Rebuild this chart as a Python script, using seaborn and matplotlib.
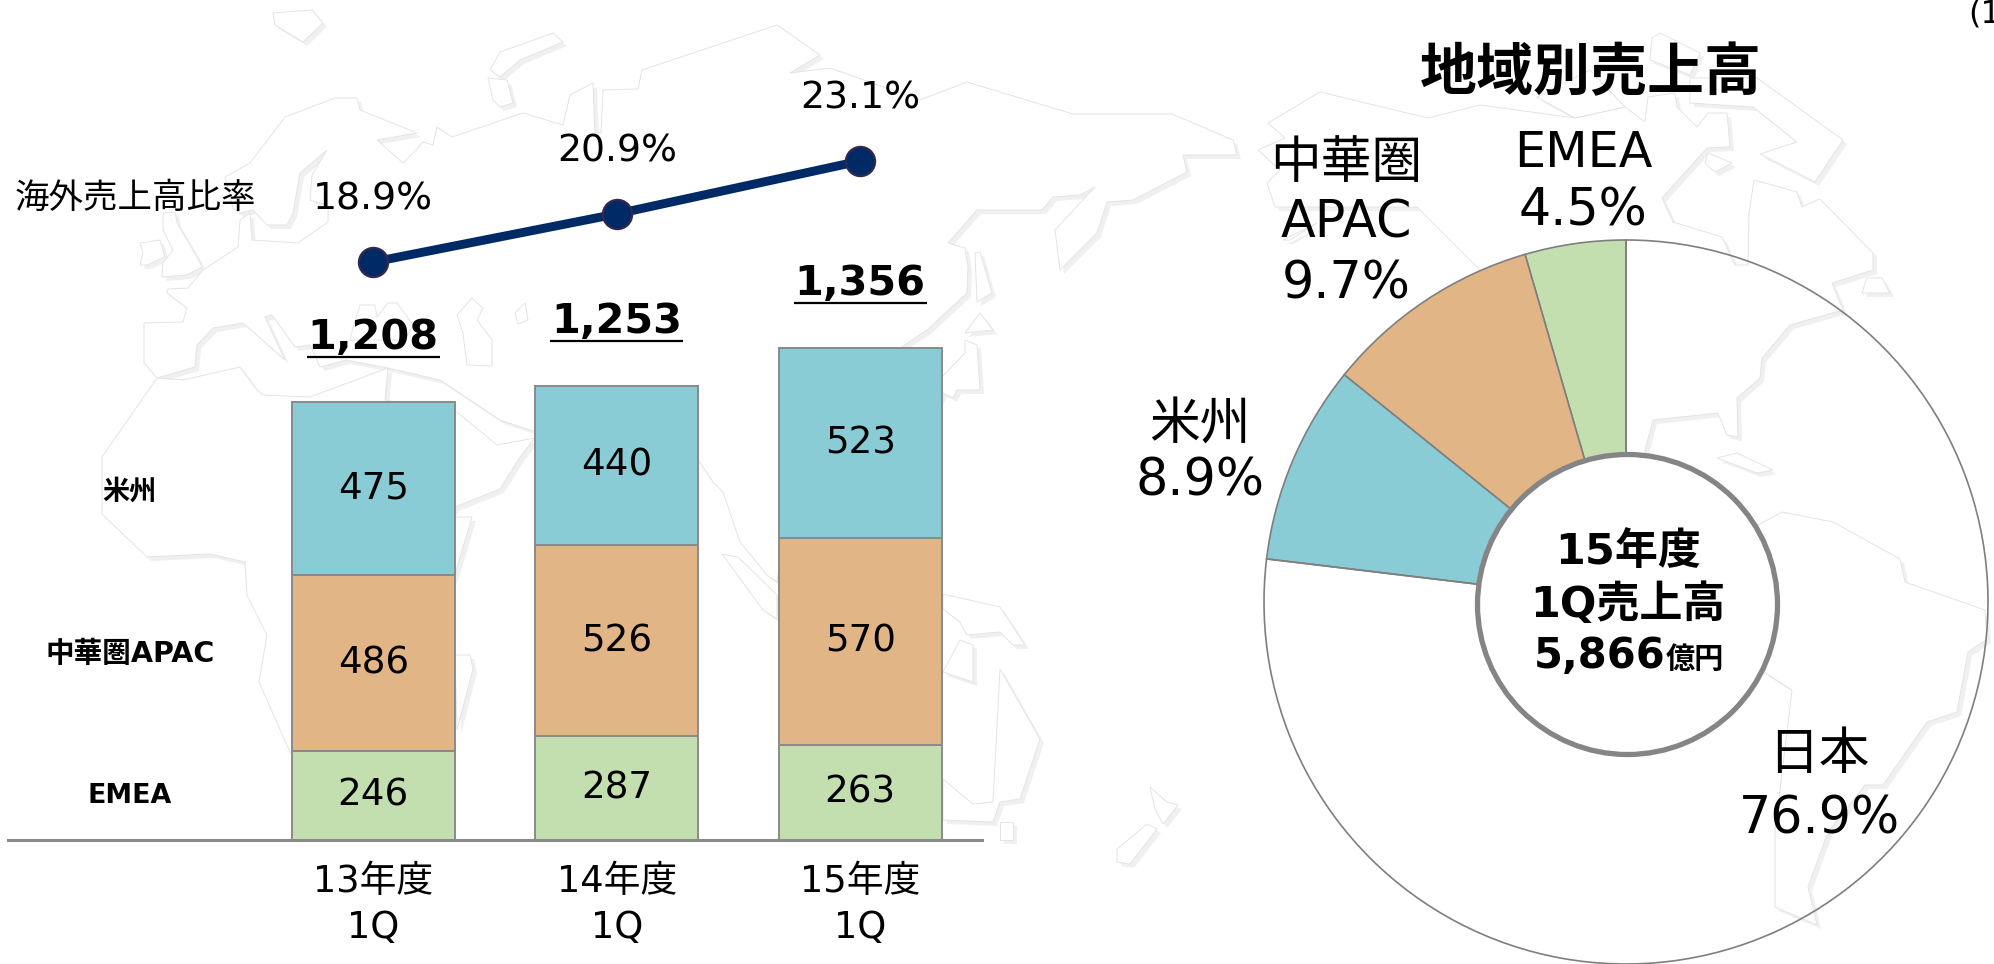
import numpy as np
import pandas as pd
import matplotlib
matplotlib.use("Agg")
import matplotlib.pyplot as plt
from matplotlib.patches import Polygon, Circle
import seaborn as sns

# ---- data ----
periods = ["13年度\n1Q", "14年度\n1Q", "15年度\n1Q"]
emea = [246, 287, 263]
apac = [486, 526, 570]
americas = [475, 440, 523]
totals = [1208, 1253, 1356]
overseas_ratio = [18.9, 20.9, 23.1]
pie_labels = ["EMEA\n4.5%", "中華圏\nAPAC\n9.7%", "米州\n8.9%", "日本\n76.9%"]
pie_shares = [4.5, 9.7, 8.9, 76.9]

# ---- style ----
TEAL, TAN, GREEN = "#89CCD6", "#E2B587", "#C3DFB0"
EDGE, NAVY = "#8A8A8A", "#002A66"
W, H = 1994, 964
sns.set_theme(style="white")
plt.rcParams["font.family"] = ["DejaVu Sans", "Noto Sans CJK JP"]
plt.rcParams["text.color"] = "black"
plt.rcParams["xtick.color"] = "black"
plt.rcParams["xtick.labelcolor"] = "black"

fig = plt.figure(figsize=(W / 100, H / 100), dpi=100, facecolor="white")
px = 72 / 100  # points per pixel


def axes_px(left, top, right, bottom, **kw):
    return fig.add_axes([left / W, 1 - bottom / H, (right - left) / W, (bottom - top) / H], **kw)


def label(x, y, s, size, **kw):
    kw.setdefault("ha", "center")
    kw.setdefault("va", "center")
    return fig.text(x / W, 1 - y / H, s, fontsize=size, **kw)


# ---- decorative world map backdrop (outlines with a soft drop shadow) ----
MAP_SHAPES = [
    # Eurasia
    [(157,378),(144,363),(144,323),(183,322),(187,308),(167,293),(168,289),(188,288),(203,270),(238,247),
     (240,220),(250,213),(252,240),(298,243),(328,222),(328,205),(310,200),(312,175),(327,150),(300,173),
     (293,213),(287,225),(267,225),(253,210),(240,213),(233,208),(225,177),(250,163),(285,117),(335,98),
     (357,98),(360,110),(417,133),(377,140),(403,163),(413,153),(423,142),(433,145),(437,127),(452,137),
     (523,113),(563,125),(570,95),(593,83),(595,133),(601,133),(603,90),(638,89),(642,70),(777,25),(820,55),
     (790,73),(830,68),(920,100),(967,82),(1000,92),(1073,114),(1172,114),(1233,140),(1237,155),(1183,155),
     (1187,172),(1133,200),(1107,202),(1097,233),(1060,270),(1055,230),(1095,187),(1080,195),(1053,197),
     (1042,210),(977,210),(948,243),(965,248),(968,267),(967,293),(927,330),(900,348),(930,365),(942,377),
     (965,353),(965,340),(977,345),(980,390),(957,390),(953,398),(943,393),(930,420),(900,480),(780,560),
     (777,582),(767,575),(740,542),(723,492),(713,482),(700,463),(690,440),(640,420),(560,440),(500,420),
     (440,380),(388,368),(346,360),(320,367),(310,345),(295,347),(272,315),(265,317),(285,360),(243,323),
     (213,328),(197,345),(195,367)],
    # Africa
    [(157,378),(183,380),(240,367),(257,390),(263,395),(310,397),(388,368),(385,400),(458,413),(497,445),
     (535,438),(520,457),(500,489),(455,507),(440,530),(455,517),(472,517),(455,574),(420,650),(360,760),
     (310,775),(290,752),(259,682),(267,635),(247,595),(245,562),(210,554),(147,557),(102,514),(102,457)],
    # North America
    [(1268,123),(1320,92),(1428,118),(1480,105),(1575,118),(1625,107),(1645,122),(1648,97),(1675,93),
     (1677,107),(1697,127),(1708,113),(1727,113),(1730,147),(1707,148),(1662,198),(1673,222),(1722,237),
     (1735,265),(1748,265),(1749,213),(1754,180),(1797,192),(1802,207),(1820,199),(1873,253),(1873,270),
     (1832,283),(1843,310),(1790,325),(1762,358),(1760,378),(1737,398),(1738,437),(1727,435),(1718,413),
     (1653,420),(1645,450),(1640,520),(1600,500),(1540,400),(1480,270),(1417,207),(1275,207),(1267,183),
     (1280,170),(1258,150),(1285,138)],
    # South America
    [(1700,540),(1760,524),(1782,512),(1833,522),(1900,559),(1905,582),(1985,610),(1987,639),(1968,652),
     (1957,712),(1927,722),(1883,785),(1865,785),(1828,832),(1808,887),(1817,925),(1775,907),(1775,832),
     (1792,690),(1767,674),(1700,620)],
    # Greenland
    [(1690,78),(1690,103),(1753,107),(1797,142),(1760,154),(1815,182),(1843,140),(1757,78)],
    # Arctic Canada
    [(1652,38),(1660,33),(1700,53),(1690,75),(1650,60)],
    [(1537,97),(1590,70),(1625,107),(1575,118)],
    # Iceland, Svalbard, Novaya Zemlya, Britain, Ireland
    [(273,13),(312,10),(323,23),(303,42),(275,25)],
    [(500,52),(553,33),(563,42),(520,60),(500,77),(490,70)],
    [(488,78),(507,80),(513,103),(500,107),(493,100)],
    [(163,213),(175,212),(177,223),(197,257),(202,267),(187,275),(162,277),(163,263),(173,250),(163,230)],
    [(140,243),(160,240),(165,257),(147,265),(140,265),(143,253)],
    # Inland seas
    [(353,327),(360,305),(375,305),(377,317),(388,303),(397,303),(413,325),(405,340),(350,340)],
    [(457,315),(472,298),(483,308),(477,320),(492,340),(492,366),(467,365),(463,333)],
    # Madagascar, Sri Lanka, Sakhalin, Japan
    [(455,655),(470,655),(473,669),(457,730)],
    [(515,313),(525,303),(528,320),(518,324)],
    [(975,253),(980,252),(992,293),(977,302)],
    [(965,333),(980,313),(993,330)],
    # South-east Asia and Oceania
    [(722,554),(738,557),(777,595),(777,619),(763,610)],
    [(943,594),(1000,607),(1025,645),(1013,645),(1000,632),(967,635),(960,622),(943,609)],
    [(943,672),(960,640),(973,645),(973,682)],
    [(943,779),(973,804),(993,802),(1000,669),(1040,739),(1020,799),(1000,802),(993,822),(943,820)],
    [(1000,822),(1013,822),(1013,840),(1000,840)],
    [(1150,787),(1167,802),(1178,805),(1163,824),(1155,809)],
    [(1147,824),(1157,829),(1130,864),(1117,862),(1117,849)],
    # Small northern and Caribbean islands
    [(1705,163),(1708,153),(1732,163),(1715,172)],
    [(1862,293),(1867,278),(1882,278),(1890,293)],
    [(1717,458),(1737,453),(1773,470),(1757,473)],
    [(1283,240),(1317,223),(1290,240)],
]
ax_map = axes_px(0, 0, W, H, zorder=0)
ax_map.set_xlim(0, W)
ax_map.set_ylim(H, 0)
ax_map.axis("off")
for shape in MAP_SHAPES:
    pts = np.array(shape, dtype=float)
    ax_map.add_patch(Polygon(pts + (4, 4), closed=True, fc="#F0F0F0", ec="none"))
for shape in MAP_SHAPES:
    ax_map.add_patch(Polygon(np.array(shape, dtype=float), closed=True, fc="white", ec="#E4E4E4", lw=0.7))

# ---- stacked bars ----
df = pd.DataFrame({"period": periods, "EMEA": emea, "APAC": apac, "Americas": americas})
ax = axes_px(8, 0, 982, 840, zorder=1)
ax.patch.set_alpha(0)
bottom = np.zeros(len(df))
for col, colour in [("EMEA", GREEN), ("APAC", TAN), ("Americas", TEAL)]:
    sns.barplot(data=df, x="period", y=col, bottom=bottom, color=colour, saturation=1, width=0.67,
                edgecolor=EDGE, linewidth=1.4, ax=ax)
    ax.bar_label(ax.containers[-1], labels=[str(v) for v in df[col]], label_type="center", fontsize=26.8)
    bottom = bottom + df[col].to_numpy()

ax.set_xlim(-1.5, 2.5)
ax.set_ylim(0, 840 / 0.3626)
ax.set_xlabel("")
ax.set_ylabel("")
ax.set_yticks([])
ax.set_xticks(range(len(periods)))
ax.set_xticklabels(periods, fontsize=26.5, linespacing=1.3)
ax.tick_params(axis="x", length=0, pad=16.5)
for s in ["top", "left", "right"]:
    ax.spines[s].set_visible(False)
ax.spines["bottom"].set_color(EDGE)
ax.spines["bottom"].set_linewidth(2.2)

for i, total in enumerate(totals):
    ax.annotate(f"{total:,}", (i, bottom[i]), xytext=(0, 64 * px), textcoords="offset points",
                ha="center", va="center", fontsize=29.8, fontweight="bold")
    ax.plot([i - 0.273, i + 0.273], [bottom[i] + 45 / 0.3626] * 2, color="black", lw=1.6, solid_capstyle="butt")

# ---- overseas ratio line ----
ax2 = axes_px(8, 0, 982, 840, zorder=2)
ax2.patch.set_alpha(0)
sns.lineplot(x=periods, y=overseas_ratio, sort=False, color=NAVY, linewidth=6.4, marker="o", markersize=21,
             markerfacecolor=NAVY, markeredgecolor="#33284F", markeredgewidth=1.6, ax=ax2)
ax2.set_xlim(-1.5, 2.5)
ax2.set_ylim(18.9 - (840 - 262) / 24.05, 18.9 + 262 / 24.05)
ax2.axis("off")
for i, r in enumerate(overseas_ratio):
    ax2.annotate(f"{r}%", (i, r), xytext=(0, 62.5 * px), textcoords="offset points",
                 ha="center", va="center", fontsize=27.2)

# ---- doughnut ----
R = 362
ax3 = axes_px(1626 - R, 602 - R, 1626 + R, 602 + R, zorder=1)
ax3.patch.set_alpha(0)
wedges, _ = ax3.pie(pie_shares, startangle=90, counterclock=True, radius=1,
                    colors=[GREEN, TAN, TEAL, (1, 1, 1, 0)],
                    wedgeprops=dict(width=0.7, edgecolor="#7F7F7F", linewidth=1.2))
ax3.set_xlim(-1, 1)
ax3.set_ylim(-1, 1)
for w in wedges:
    w.set_clip_on(False)
ax3.add_patch(Circle((1.5 / R, -2.5 / R), 150 / R, fc="white", ec="#858585", lw=3.8, zorder=5))

# ---- free text ----
label(135, 198, "海外売上高比率", 24.8)
label(129, 493, "米州", 19.5, fontweight="bold")
label(130, 654, "中華圏APAC", 20.6, fontweight="bold")
label(130, 796, "EMEA", 19.4, fontweight="bold")
label(1591, 75, "地域別売上高", 41, fontweight="bold")
label(1968, 14, "(1", 23, ha="left")

piece = 36.5
label(1583, 153, pie_labels[0].split("\n")[0], 35.5)
label(1583, 211, pie_labels[0].split("\n")[1], piece)
label(1346, 164, pie_labels[1].split("\n")[0], piece)
label(1346, 223, pie_labels[1].split("\n")[1], piece)
label(1346, 284, pie_labels[1].split("\n")[2], piece)
label(1200, 426, pie_labels[2].split("\n")[0], piece)
label(1200, 482, pie_labels[2].split("\n")[1], piece)
label(1819, 755, pie_labels[3].split("\n")[0], piece)
label(1819, 819, pie_labels[3].split("\n")[1], piece)

label(1628, 552, "15年度", 31, fontweight="bold", zorder=10)
label(1628, 605, "1Q売上高", 31, fontweight="bold", zorder=10)
label(1534, 668, "5,866", 30, fontweight="bold", ha="left", va="baseline", zorder=10)
label(1666, 668, "億円", 21, fontweight="bold", ha="left", va="baseline", zorder=10)

fig.savefig("out.png", dpi=100, facecolor="white")
